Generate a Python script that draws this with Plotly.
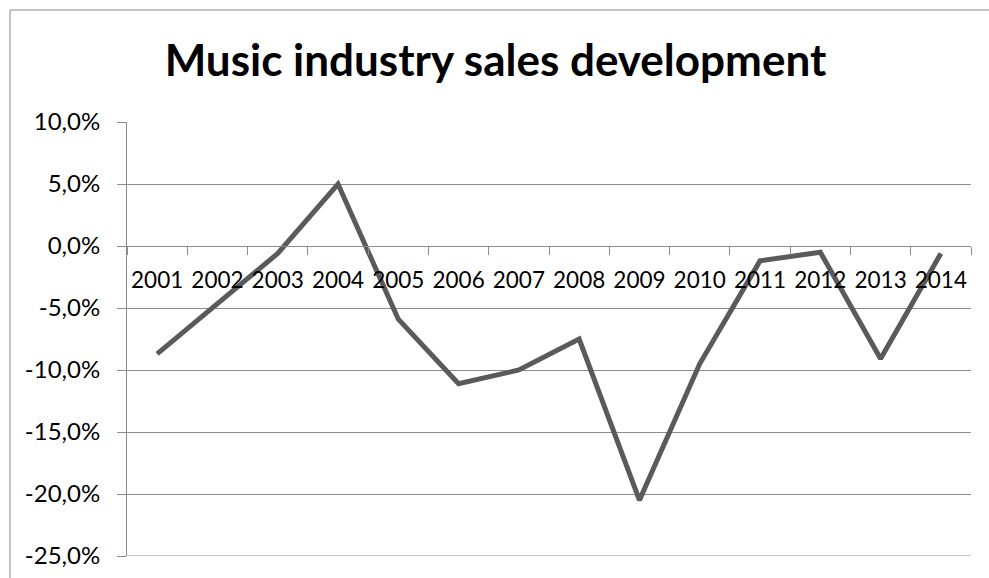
import plotly.graph_objects as go

# Year-over-year change in music industry sales (percent)
years = ["2001", "2002", "2003", "2004", "2005", "2006", "2007",
         "2008", "2009", "2010", "2011", "2012", "2013", "2014"]
sales_change = [-8.7, -4.6, -0.6, 5.0, -5.9, -11.1, -10.0,
                -7.5, -20.5, -9.5, -1.2, -0.5, -9.1, -0.6]

y_ticks = [-25, -20, -15, -10, -5, 0, 5, 10]
y_tick_labels = ["-25,0%", "-20,0%", "-15,0%", "-10,0%",
                 "-5,0%", "0,0%", "5,0%", "10,0%"]

W, H = 989, 578
ML, MR, MT, MB = 127, 18, 122, 22
plot_w = W - ML - MR
plot_h = H - MT - MB

grid = "#8c8c8c"
font_family = "Lato, 'Open Sans', sans-serif"

fig = go.Figure()
fig.add_trace(go.Scatter(
    x=years, y=sales_change, mode="lines",
    line=dict(color="#5a5a5a", width=5),
    hoverinfo="x+y", showlegend=False,
))

y_min, y_max = y_ticks[0], y_ticks[-1]

fig.update_layout(
    width=W, height=H,
    margin=dict(l=ML, r=MR, t=MT, b=MB, pad=0, autoexpand=False),
    paper_bgcolor="white", plot_bgcolor="white",
    title=dict(
        text="<b>Music industry sales development</b>",
        font=dict(family=font_family, size=44, color="black"),
        x=495.5 / W, xanchor="center", xref="container",
        y=1 - 61 / H, yanchor="middle", yref="container",
    ),
    xaxis=dict(
        type="category", categoryorder="array", categoryarray=years,
        range=[-0.5, len(years) - 0.5],
        showgrid=False, zeroline=False,
        showline=True, linecolor=grid, linewidth=1,
        ticks="outside", ticklen=8, tickcolor=grid, tickwidth=1,
        tickson="boundaries", tickangle=0, automargin=False,
        anchor="free", position=(0 - y_min) / (y_max - y_min),
        tickfont=dict(family=font_family, size=22.5, color="black"),
        ticklabelstandoff=14,
    ),
    yaxis=dict(
        range=[y_min, y_max], tickvals=y_ticks, ticktext=y_tick_labels,
        showgrid=True, gridcolor=grid, gridwidth=1, zeroline=False,
        showline=True, linecolor=grid, linewidth=1,
        ticks="outside", ticklen=9, tickcolor=grid, tickwidth=1,
        automargin=False,
        tickfont=dict(family=font_family, size=24, color="black"),
        ticklabelstandoff=12,
    ),
    shapes=[
        # gridline along the bottom edge of the value range
        dict(type="line", xref="paper", yref="y",
             x0=0, x1=1, y0=y_min, y1=y_min,
             line=dict(color=grid, width=1), layer="below"),
        # chart frame
        dict(type="rect", xref="paper", yref="paper",
             x0=(10 - ML) / plot_w, x1=(995 - ML) / plot_w,
             y0=(H - MB - 600) / plot_h, y1=(H - MB - 10) / plot_h,
             line=dict(color="#868686", width=1),
             fillcolor="rgba(0,0,0,0)", layer="below"),
    ],
)

fig.write_html("out.html")
